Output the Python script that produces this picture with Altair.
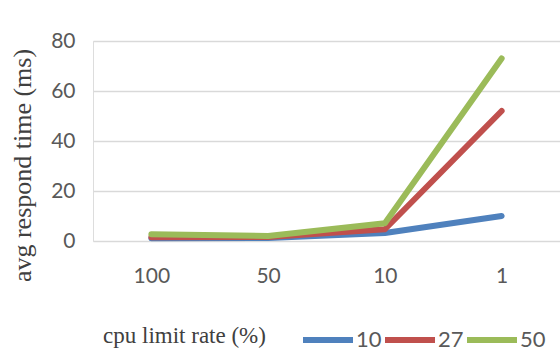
import altair as alt
import pandas as pd

categories = ["100", "50", "10", "1"]
series_names = ["10", "27", "50"]
values_10 = [1.1, 1.2, 3.2, 10.0]
values_27 = [1.5, 1.6, 4.7, 52.0]
values_50 = [2.7, 2.0, 7.1, 73.0]
y_ticks = [0, 20, 40, 60, 80]
colors = ["#4F81BD", "#C0504D", "#9BBB59"]

rows = []
for name, vals in zip(series_names, [values_10, values_27, values_50]):
    for c, v in zip(categories, vals):
        rows.append({"rate": c, "time": v, "series": name})
df = pd.DataFrame(rows)

tick_font = "Lato"
serif = "Liberation Serif"

chart = alt.Chart(df).mark_line(strokeWidth=6, strokeCap="round", strokeJoin="round").encode(
    x=alt.X("rate:N", sort=categories, scale=alt.Scale(paddingOuter=0.5),
            axis=alt.Axis(title="cpu limit rate (%)", labelAngle=0, domain=False, ticks=False,
                          labelPadding=24, labelFont=tick_font, labelFontSize=21,
                          labelColor="#595959", titleFont=serif, titleFontSize=23,
                          titleFontWeight="normal", titleColor="#404040",
                          titleX=91, titleY=101, titleAlign="center",
                          titleBaseline="alphabetic")),
    y=alt.Y("time:Q", scale=alt.Scale(domain=[0, 80], nice=False),
            axis=alt.Axis(title="avg respond time (ms)", values=y_ticks, domain=False,
                          ticks=False, labelPadding=18, labelFont=tick_font, labelFontSize=21,
                          labelColor="#595959", gridColor="#d9d9d9", gridWidth=1.5,
                          titleFont=serif, titleFontSize=26, titleFontWeight="normal",
                          titleColor="#404040", titleX=-71, titleY=124, titleAngle=270,
                          titleAlign="center", titleBaseline="middle")),
    color=alt.Color("series:N", sort=series_names,
                    scale=alt.Scale(domain=series_names, range=colors),
                    legend=alt.Legend(title=None, orient="none", direction="horizontal",
                                      legendX=207, legendY=271, symbolType="stroke",
                                      symbolSize=2500, symbolStrokeWidth=6,
                                      labelFont=tick_font, labelFontSize=22,
                                      labelColor="#595959", labelOffset=0,
                                      columnPadding=-11)),
    order=alt.Order("series:N"),
).properties(
    width=467, height=200,
    autosize=alt.AutoSizeParams(type="none"),
    padding={"left": 93, "top": 41, "right": 0, "bottom": 112},
).configure_view(stroke=None).configure(background="white")

chart.save("out.html", embed_options={"renderer": "svg", "actions": False})
